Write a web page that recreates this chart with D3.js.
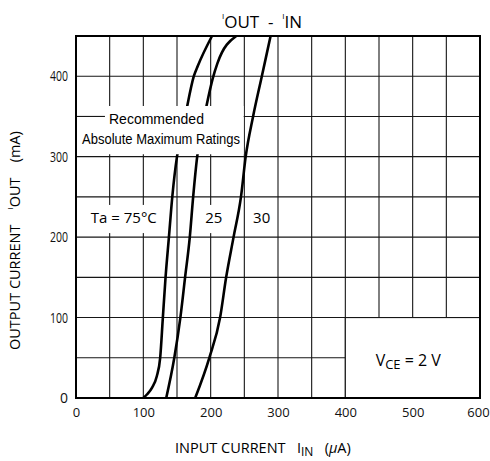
<!DOCTYPE html>
<html>
<head>
<meta charset="utf-8">
<script src="https://cdn.jsdelivr.net/npm/d3@7"></script>
<style>
  body { margin: 0; background: #fff; }
  svg { display: block; }
  text { white-space: pre; }
  .tick text { font-family: "Open Sans", sans-serif; fill: #111; }
</style>
</head>
<body>
<svg id="chart" width="490" height="461"></svg>
<script>
// tick labels
const xTicks = [0, 100, 200, 300, 400, 500, 600]
const yTicks = [0, 100, 200, 300, 400]
const xGrid = d3.range(0, 601, 50)
const yGrid = d3.range(0, 451, 50)

// IIN (uA), IOUT (mA)
const ta75 = [[100, 0], [106, 5], [113, 13], [120, 27], [125, 50], [129, 100], [133, 150], [138, 200],
  [143, 250], [150, 300], [158, 330], [165, 362], [175, 400], [181, 413], [202, 450]]
const ta25 = [[134, 0], [146, 50], [155, 100], [162, 150], [169, 200], [174, 250], [180, 300],
  [187, 335], [194, 364], [203, 397], [210, 416], [238, 450]]
const ta30 = [[177, 0], [198, 50], [214, 100], [223, 150], [234, 200], [245, 250], [252, 300],
  [263, 350], [276, 400], [289, 450]]
const curves = [ta75, ta25, ta30]

const svg = d3.select("#chart")
const margin = { top: 36, left: 76 }
const width = 404
const height = 362
const g = svg.append("g").attr("transform", "translate(" + margin.left + "," + margin.top + ")")

const x = d3.scaleLinear().domain([0, 600]).range([0, width])
const y = d3.scaleLinear().domain([0, 450]).range([height, 0])

// grid
g.selectAll(".vgrid").data(xGrid).enter().append("line")
  .attr("class", "vgrid")
  .attr("x1", d => x(d)).attr("x2", d => x(d))
  .attr("y1", 0).attr("y2", height)
  .attr("stroke", "#161616").attr("stroke-width", 1.1)
g.selectAll(".hgrid").data(yGrid).enter().append("line")
  .attr("class", "hgrid")
  .attr("x1", 0).attr("x2", width)
  .attr("y1", d => y(d)).attr("y2", d => y(d))
  .attr("stroke", "#161616").attr("stroke-width", 1.1)

// white patches behind the curve labels
function patch(x0, x1, y0, y1) {
  return g.append("rect")
    .attr("x", x(x0)).attr("y", y(y1))
    .attr("width", x(x1) - x(x0)).attr("height", y(y0) - y(y1))
    .attr("fill", "#fff")
}
patch(15, 128, 205, 240)
patch(185, 220, 205, 240)
patch(256, 293, 205, 240)

// curves
const line = d3.line()
  .x(d => x(d[0]))
  .y(d => y(d[1]))
  .curve(d3.curveMonotoneX)
g.selectAll(".curve").data(curves).enter().append("path")
  .attr("class", "curve")
  .attr("d", line)
  .attr("fill", "none")
  .attr("stroke", "#000")
  .attr("stroke-width", 2.6)

// recommended / absolute maximum box
patch(0, 249, 303, 363)
g.append("line")
  .attr("x1", 0).attr("x2", x(43))
  .attr("y1", y(350)).attr("y2", y(350))
  .attr("stroke", "#161616").attr("stroke-width", 1.1)
g.append("text")
  .attr("x", x(49)).attr("y", y(340))
  .attr("font-family", "Liberation Sans, Arial, sans-serif")
  .attr("font-size", 14)
  .text("Recommended")
g.append("text")
  .attr("x", x(9)).attr("y", y(316))
  .attr("font-family", "Liberation Sans, Arial, sans-serif")
  .attr("font-size", 14)
  .attr("textLength", 158).attr("lengthAdjust", "spacingAndGlyphs")
  .text("Absolute Maximum Ratings")

// curve labels
const labelFont = "Open Sans, sans-serif"
g.append("text").attr("x", x(22)).attr("y", y(218))
  .attr("font-family", labelFont).attr("font-size", 15).text("Ta = 75°C")
g.append("text").attr("x", x(192)).attr("y", y(218))
  .attr("font-family", labelFont).attr("font-size", 15).text("25")
g.append("text").attr("x", x(263)).attr("y", y(218))
  .attr("font-family", labelFont).attr("font-size", 15).text("30")

// VCE box
g.append("rect")
  .attr("x", x(400)).attr("y", y(100))
  .attr("width", x(600) - x(400)).attr("height", y(0) - y(100))
  .attr("fill", "#fff").attr("stroke", "#161616").attr("stroke-width", 1.1)
const vce = g.append("text").attr("x", x(445)).attr("y", y(40))
  .attr("font-family", labelFont).attr("font-size", 16)
vce.append("tspan").text("V")
vce.append("tspan").attr("font-size", 13).attr("dy", 3).text("CE")
vce.append("tspan").attr("dy", -3).text(" = 2 V")

// frame
g.append("rect")
  .attr("width", width).attr("height", height)
  .attr("fill", "none").attr("stroke", "#000").attr("stroke-width", 2)

// axes
const xAxis = g.append("g")
  .attr("transform", "translate(0," + height + ")")
  .call(d3.axisBottom(x).tickValues(xTicks).tickSize(0).tickPadding(10))
const yAxis = g.append("g")
  .call(d3.axisLeft(y).tickValues(yTicks).tickSize(0).tickPadding(8))
xAxis.select(".domain").remove()
yAxis.select(".domain").remove()
xAxis.selectAll("text").attr("font-size", 13)
yAxis.selectAll("text").attr("font-size", 14)
  .attr("textLength", 18).attr("lengthAdjust", "spacingAndGlyphs")
yAxis.selectAll(".tick").filter(d => d === 0).select("text").attr("textLength", null)
xAxis.selectAll(".tick").filter(d => d === 600).select("text").attr("dx", -2)

// titles
const title = svg.append("text")
  .attr("x", 222).attr("y", 28)
  .attr("font-family", labelFont).attr("font-size", 17)
title.append("tspan").attr("font-size", 8).attr("dy", -9).text("I")
title.append("tspan").attr("dy", 9).text("OUT  -  ")
title.append("tspan").attr("font-size", 8).attr("dy", -9).text("I")
title.append("tspan").attr("dy", 9).text("IN")

const xTitle = svg.append("text")
  .attr("x", 175).attr("y", 453)
  .attr("font-family", labelFont).attr("font-size", 14.5)
xTitle.append("tspan").text("INPUT CURRENT   I")
xTitle.append("tspan").attr("font-size", 12).attr("dy", 3).text("IN")
xTitle.append("tspan").attr("dy", -3).text("   (")
xTitle.append("tspan").attr("font-style", "italic").text("µ")
xTitle.append("tspan").text("A)")

const yTitle = svg.append("text")
  .attr("transform", "translate(20,350) rotate(-90)")
  .attr("font-family", labelFont).attr("font-size", 14.5)
yTitle.append("tspan").text("OUTPUT CURRENT    ")
yTitle.append("tspan").attr("font-size", 8).attr("dy", -7).text("I")
yTitle.append("tspan").attr("dy", 7).text("OUT")
yTitle.append("tspan").text("    (mA)")
</script>
</body>
</html>
